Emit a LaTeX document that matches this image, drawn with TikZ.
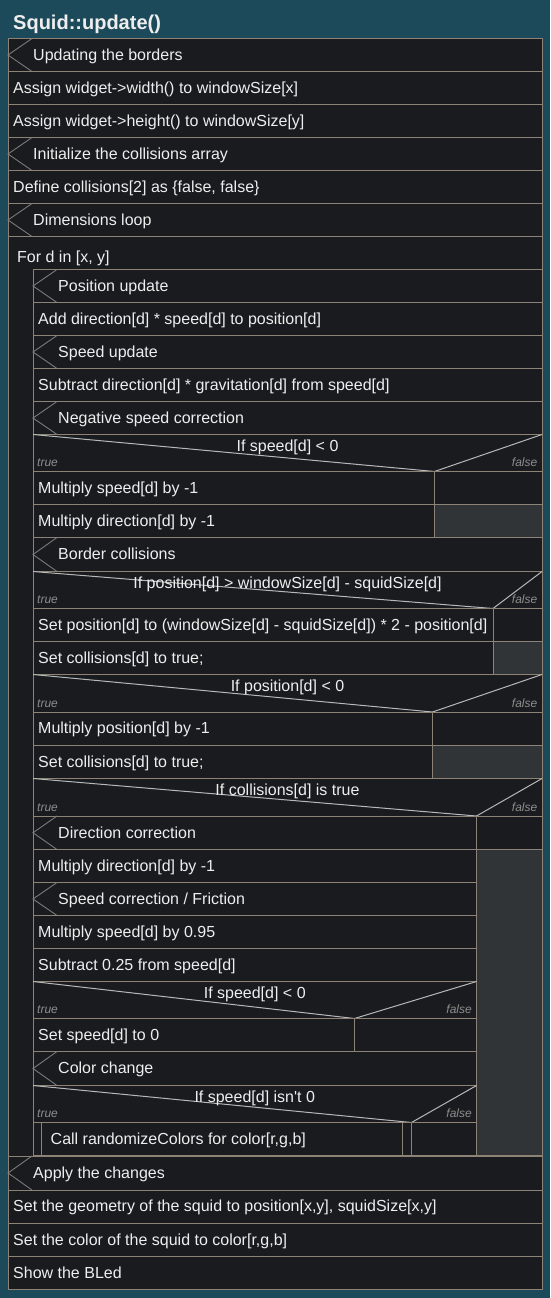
\documentclass[tikz,border=0pt]{standalone}
\usepackage{fontspec}
\setmainfont{Liberation Sans}
\definecolor{teal0}{HTML}{1C4A5A}
\definecolor{boxbg}{HTML}{1A1B1E}
\definecolor{grayfill}{HTML}{303437}
\definecolor{bord}{HTML}{8C8275}
\definecolor{txtc}{HTML}{EEEEEE}
\definecolor{tfc}{HTML}{8D8D8D}
\definecolor{diagc}{HTML}{B8B8B8}
\definecolor{chevc}{HTML}{7A7A7A}
\tikzset{
  cell/.style={draw=bord, fill=boxbg, line width=1pt},
  graycell/.style={draw=bord, fill=grayfill, line width=1pt},
  txt/.style={anchor=base west, text=txtc, inner sep=0pt, font=\fontsize{16}{19}\selectfont},
  ctxt/.style={anchor=base, text=txtc, inner sep=0pt, font=\fontsize{16}{19}\selectfont},
  tf/.style={text=tfc, inner sep=0pt, font=\fontsize{12}{14}\selectfont\itshape},
  diag/.style={draw=diagc, line width=1pt},
  chev/.style={draw=chevc, line width=0.9pt},
}
% action row: name, x1, y1, x2, y2, text
\newcommand\NSAct[6]{%
  \draw[cell] (#2,#3) rectangle (#4,#5);
  \node[txt] (#1) at ({#2+5},{(#3+#5)/2+5.4}) {#6};}
% comment row
\newcommand\NSCmt[6]{%
  \draw[cell] (#2,#3) rectangle (#4,#5);
  \draw[chev] ({#2+24},#3) -- (#2,{(#3+#5)/2}) -- ({#2+24},#5);
  \node[txt] (#1) at ({#2+25},{(#3+#5)/2+5.4}) {#6};}
% if header: name, x1, y1, x2, y2, split, text
\newcommand\NSIf[7]{%
  \draw[cell] (#2,#3) rectangle (#4,#5);
  \draw[diag] (#2,#3) -- (#6,#5) -- (#4,#3);
  \node[ctxt] (#1) at ({(#2+#4)/2},{#3+17.2}) {#7};
  \node[tf, anchor=base west] (#1t) at ({#2+4},{#5-4.8}) {true};
  \node[tf, anchor=base east] (#1f) at ({#4-4.5},{#5-4.8}) {false};}
\begin{document}
\begin{tikzpicture}[x=1pt,y=-1pt]
\fill[teal0] (0,0) rectangle (550,1298);
\useasboundingbox (0,0) rectangle (550,1298);
\node[anchor=base west, text=txtc, inner sep=0pt, font=\fontsize{20}{24}\selectfont\bfseries] (title) at (13,29.5) {Squid::update()};

\NSCmt{c1}{8}{38.5}{542}{71.5}{Updating the borders}
\NSAct{a1}{8}{71.5}{542}{104.5}{Assign widget->width() to windowSize[x]}
\NSAct{a2}{8}{104.5}{542}{137.5}{Assign widget->height() to windowSize[y]}
\NSCmt{c2}{8}{137.5}{542}{170.5}{Initialize the collisions array}
\NSAct{a3}{8}{170.5}{542}{203.5}{Define collisions[2] as \{false, false\}}
\NSCmt{c3}{8}{203.5}{542}{236.5}{Dimensions loop}

% loop
\draw[cell] (8,236.5) rectangle (542,1156);
\node[txt] (loop) at (17,262.5) {For d in [x, y]};

\NSCmt{c4}{33}{269.5}{542}{302.5}{Position update}
\NSAct{a4}{33}{302.5}{542}{335.5}{Add direction[d] * speed[d] to position[d]}
\NSCmt{c5}{33}{335.5}{542}{368.5}{Speed update}
\NSAct{a5}{33}{368.5}{542}{401.5}{Subtract direction[d] * gravitation[d] from speed[d]}
\NSCmt{c6}{33}{401.5}{542}{434.5}{Negative speed correction}

\NSIf{if1}{33}{434.5}{542}{471.5}{434.5}{If speed[d] < 0}
\NSAct{a6}{33}{471.5}{434.5}{504.5}{Multiply speed[d] by -1}
\draw[cell] (434.5,471.5) rectangle (542,504.5);
\NSAct{a7}{33}{504.5}{434.5}{537.5}{Multiply direction[d] by -1}
\draw[graycell] (434.5,504.5) rectangle (542,537.5);

\NSCmt{c7}{33}{537.5}{542}{571.5}{Border collisions}
\NSIf{if2}{33}{571.5}{542}{608.5}{493}{If position[d] > windowSize[d] - squidSize[d]}
\NSAct{a8}{33}{608.5}{493}{641.5}{Set position[d] to (windowSize[d] - squidSize[d]) * 2 - position[d]}
\draw[cell] (493,608.5) rectangle (542,641.5);
\NSAct{a9}{33}{641.5}{493}{674.5}{Set collisions[d] to true;}
\draw[graycell] (493,641.5) rectangle (542,674.5);

\NSIf{if3}{33}{674.5}{542}{712}{432.5}{If position[d] < 0}
\NSAct{a10}{33}{712}{432.5}{745}{Multiply position[d] by -1}
\draw[cell] (432.5,712) rectangle (542,745);
\NSAct{a11}{33}{745}{432.5}{778.5}{Set collisions[d] to true;}
\draw[graycell] (432.5,745) rectangle (542,778.5);

\NSIf{if4}{33}{778.5}{542}{816}{476.5}{If collisions[d] is true}
\draw[cell] (476.5,816) rectangle (542,849.5);
\draw[graycell] (476.5,849.5) rectangle (542,1156);
\NSCmt{c8}{33}{816}{476.5}{849.5}{Direction correction}
\NSAct{a12}{33}{849.5}{476.5}{882.5}{Multiply direction[d] by -1}
\NSCmt{c9}{33}{882.5}{476.5}{915.5}{Speed correction / Friction}
\NSAct{a13}{33}{915.5}{476.5}{948.5}{Multiply speed[d] by 0.95}
\NSAct{a14}{33}{948.5}{476.5}{981.5}{Subtract 0.25 from speed[d]}

\NSIf{if5}{33}{981.5}{476.5}{1018.5}{354.5}{If speed[d] < 0}
\NSAct{a15}{33}{1018.5}{354.5}{1051.5}{Set speed[d] to 0}
\draw[cell] (354.5,1018.5) rectangle (476.5,1051.5);
\draw[bord, line width=2pt] (33,1051.5) -- (476.5,1051.5);

\NSCmt{c10}{33}{1051.5}{476.5}{1085.5}{Color change}
\NSIf{if6}{33}{1085.5}{476.5}{1122.5}{411.5}{If speed[d] isn\textquotesingle t 0}
\draw[cell] (33,1122.5) rectangle (411.5,1156);
\draw[bord, line width=1pt] (41.5,1122.5) -- (41.5,1156);
\draw[bord, line width=1pt] (402.5,1122.5) -- (402.5,1156);
\node[txt] (call) at (50.5,{(1122.5+1156)/2+5.4}) {Call randomizeColors for color[r,g,b]};
\draw[cell] (411.5,1122.5) rectangle (476.5,1156);
\draw[bord, line width=2pt] (33,1156) -- (542,1156);

\NSCmt{c11}{8}{1156}{542}{1190}{Apply the changes}
\NSAct{a16}{8}{1190}{542}{1223}{Set the geometry of the squid to position[x,y], squidSize[x,y]}
\NSAct{a17}{8}{1223}{542}{1256.5}{Set the color of the squid to color[r,g,b]}
\NSAct{a18}{8}{1256.5}{542}{1289}{Show the BLed}
\draw[bord, line width=1pt] (8,38.5) rectangle (542,1289);
\end{tikzpicture}
\end{document}
